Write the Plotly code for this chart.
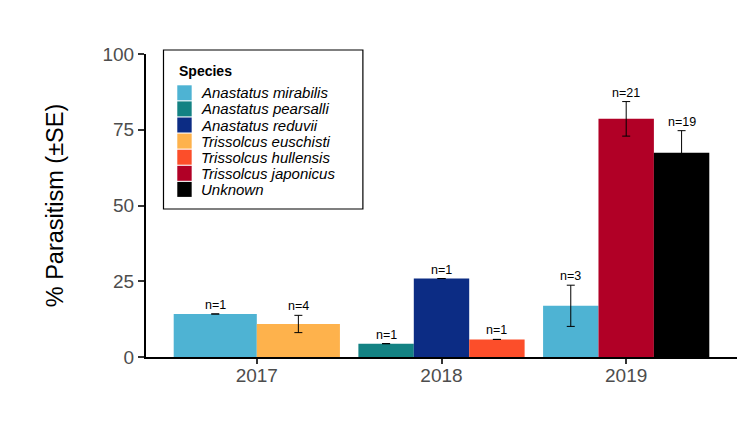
import plotly.graph_objects as go

# ---------------- data ----------------
years = ["2017", "2018", "2019"]
species = ["Anastatus mirabilis", "Anastatus pearsalli", "Anastatus reduvii",
           "Trissolcus euschisti", "Trissolcus hullensis", "Trissolcus japonicus",
           "Unknown"]
species_colors = ["#4EB3D3", "#138283", "#0C2C84", "#FEB24C", "#FC4E2A",
                  "#B10026", "#000000"]

bar_year = ["2017", "2017", "2018", "2018", "2018", "2019", "2019", "2019"]
bar_species = ["Anastatus mirabilis", "Trissolcus euschisti",
               "Anastatus pearsalli", "Anastatus reduvii", "Trissolcus hullensis",
               "Anastatus mirabilis", "Trissolcus japonicus", "Unknown"]
bar_mean = [14.2, 10.9, 4.4, 25.9, 5.8, 16.9, 78.6, 67.4]
bar_se = [0.0, 2.85, 0.0, 0.0, 0.0, 6.8, 5.7, 7.3]
bar_n = [1, 4, 1, 1, 1, 3, 21, 19]

y_ticks = [0, 25, 50, 75, 100]

# ---------------- layout constants ----------------
OFF = 8  # default page body margin
W, H = 750 - OFF, 432 - OFF
ML, MT = 146 - OFF, 54 - OFF
MR = W - (737.3 - OFF)
MB = H - (357 - OFF)
PW, PH = W - ML - MR, H - MT - MB
FONT = "Liberation Sans, Arial, sans-serif"
DODGE = 0.9


def px_x(px):
    return (px - OFF - ML) / PW


def px_y(py):
    return 1 - (py - OFF - MT) / PH


# dodge positions (ggplot position_dodge, only present species per year)
year_pos = {y: i + 1 for i, y in enumerate(years)}
bar_x, bar_w = [], []
for yr, sp in zip(bar_year, bar_species):
    present = [s for s in species if any(
        (by == yr and bs == s) for by, bs in zip(bar_year, bar_species))]
    k = len(present)
    w = DODGE / k
    j = present.index(sp)
    bar_x.append(year_pos[yr] + (j - (k - 1) / 2) * w)
    bar_w.append(w)

fig = go.Figure()
for sp, col in zip(species, species_colors):
    idx = [i for i, s in enumerate(bar_species) if s == sp]
    fig.add_trace(go.Bar(
        x=[bar_x[i] for i in idx],
        y=[bar_mean[i] for i in idx],
        width=[bar_w[i] for i in idx],
        name=sp,
        marker=dict(color=col, line=dict(width=0)),
        error_y=dict(type="data", array=[bar_se[i] for i in idx],
                     color="black", thickness=1, width=4),
        showlegend=False,
    ))

annotations = []
for x, m, se, n in zip(bar_x, bar_mean, bar_se, bar_n):
    annotations.append(dict(
        x=x, y=m + se, xref="x", yref="y", text=f"n={n}", showarrow=False,
        yanchor="bottom", xanchor="center", yshift=0,
        font=dict(family=FONT, size=12.5, color="black")))

# ---------------- manual legend (ggplot style) ----------------
shapes = []
shapes.append(dict(type="rect", xref="paper", yref="paper",
                   x0=px_x(163.5), x1=px_x(363),
                   y0=px_y(209), y1=px_y(50),
                   line=dict(color="black", width=1.2), fillcolor="white",
                   layer="above"))
annotations.append(dict(
    x=px_x(177), y=px_y(71.5), xref="paper", yref="paper",
    text="<b>Species</b>", showarrow=False, xanchor="left", yanchor="middle",
    font=dict(family=FONT, size=14, color="black")))
for i, (sp, col) in enumerate(zip(species, species_colors)):
    cy = 92.8 + i * 16.1
    shapes.append(dict(type="rect", xref="paper", yref="paper",
                       x0=px_x(177.3), x1=px_x(191.7),
                       y0=px_y(cy + 7.5), y1=px_y(cy - 7.5),
                       line=dict(width=0), fillcolor=col, layer="above"))
    annotations.append(dict(
        x=px_x(199.5), y=px_y(cy), xref="paper", yref="paper",
        text=f"<i>{sp}</i>", showarrow=False, xanchor="left", yanchor="middle",
        font=dict(family=FONT, size=15, color="black")))

fig.update_layout(
    width=W, height=H,
    margin=dict(l=ML, r=MR, t=MT, b=MB, autoexpand=False),
    paper_bgcolor="white", plot_bgcolor="white",
    barmode="overlay", showlegend=False,
    font=dict(family=FONT),
    xaxis=dict(range=[0.4, 3.6], tickvals=[1, 2, 3], ticktext=years,
               showgrid=False, zeroline=False, showline=True,
               linecolor="black", linewidth=2, ticks="outside", ticklen=5,
               tickwidth=1.5, tickcolor="#333333", ticklabelstandoff=-5,
               tickfont=dict(family=FONT, size=19, color="#4D4D4D")),
    yaxis=dict(range=[0, 100], tickvals=y_ticks, showgrid=False,
               zeroline=False, showline=True, linecolor="black", linewidth=2,
               ticks="outside", ticklen=6, tickwidth=1.5, tickcolor="#333333",
               tickfont=dict(family=FONT, size=19, color="#4D4D4D"),
               title=dict(text="% Parasitism (±SE)", standoff=32,
                          font=dict(family=FONT, size=23.5, color="black"))),
    shapes=shapes,
    annotations=annotations,
)

fig.write_html("out.html")
